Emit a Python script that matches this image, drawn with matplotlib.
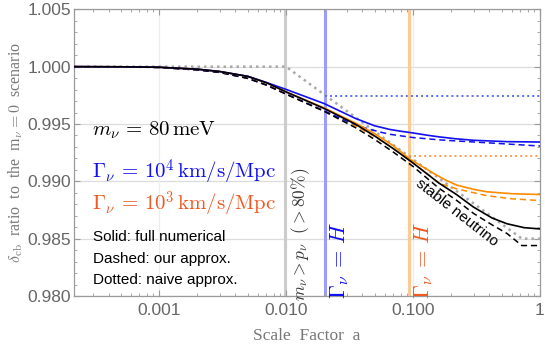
import matplotlib
matplotlib.use("Agg")
import matplotlib.pyplot as plt
from matplotlib.ticker import FixedLocator, NullFormatter

plt.rcParams['mathtext.fontset'] = 'cm'

# ---- data ----
a_black = [2.14e-4, 5e-4, 0.001, 0.002, 0.003, 0.005, 0.007, 0.01, 0.02, 0.035, 0.05, 0.07, 0.1, 0.16, 0.22, 0.3, 0.42, 0.55, 0.75, 1.0]
black_solid = [1.0, 0.99999, 0.99995, 0.99978, 0.99958, 0.99915, 0.99860, 0.99780, 0.99635, 0.99500, 0.99395, 0.99285, 0.99160, 0.98985, 0.98885, 0.98775, 0.98680, 0.98630, 0.98596, 0.98585]

a_bdash = [2.14e-4, 5e-4, 0.001, 0.002, 0.003, 0.005, 0.007, 0.01, 0.02, 0.035, 0.05, 0.07, 0.1, 0.16, 0.22, 0.3, 0.42, 0.55, 0.72, 1.0]
black_dashed = [1.0, 0.99999, 0.99993, 0.99972, 0.99950, 0.99898, 0.99840, 0.99760, 0.99610, 0.99470, 0.99365, 0.99255, 0.99130, 0.98940, 0.98835, 0.98720, 0.98620, 0.98545, 0.98440, 0.98440]

a_blue = [2.14e-4, 5e-4, 0.001, 0.002, 0.003, 0.005, 0.007, 0.01, 0.02, 0.035, 0.05, 0.066, 0.08, 0.1, 0.13, 0.16, 0.214, 0.3, 0.55, 1.0]
blue_solid = [1.0, 0.99999, 0.99995, 0.99978, 0.99958, 0.99916, 0.99862, 0.99802, 0.99678, 0.99550, 0.99484, 0.99452, 0.99437, 0.99422, 0.99402, 0.99388, 0.99372, 0.99358, 0.99346, 0.99343]

a_blue_d = [2.14e-4, 5e-4, 0.001, 0.002, 0.003, 0.005, 0.007, 0.01, 0.02, 0.03, 0.042, 0.055, 0.066, 0.1, 0.16, 0.2, 0.4, 1.0]
blue_dashed = [1.0, 0.99999, 0.99993, 0.99972, 0.99950, 0.99898, 0.99840, 0.99762, 0.99615, 0.99525, 0.99465, 0.99430, 0.99410, 0.99382, 0.99362, 0.99355, 0.99335, 0.99308]

a_orange = [2.14e-4, 5e-4, 0.001, 0.002, 0.003, 0.005, 0.007, 0.01, 0.02, 0.035, 0.05, 0.07, 0.095, 0.12, 0.145, 0.18, 0.22, 0.3, 0.38, 0.6, 1.0]
orange_solid = [1.0, 0.99999, 0.99995, 0.99978, 0.99958, 0.99915, 0.99861, 0.99781, 0.99640, 0.99510, 0.99415, 0.99310, 0.99192, 0.99125, 0.99070, 0.99012, 0.98968, 0.98930, 0.98909, 0.98892, 0.98885]

a_orange_d = [2.14e-4, 5e-4, 0.001, 0.002, 0.003, 0.005, 0.007, 0.01, 0.02, 0.035, 0.05, 0.07, 0.1, 0.13, 0.16, 0.22, 0.38, 0.6, 1.0]
orange_dashed = [1.0, 0.99999, 0.99993, 0.99972, 0.99950, 0.99898, 0.99840, 0.99762, 0.99615, 0.99485, 0.99390, 0.99285, 0.99160, 0.99065, 0.98983, 0.98935, 0.98875, 0.98848, 0.98832]

a_gray_dot = [2.14e-4, 0.01, 0.72, 1.0]
gray_dotted = [1.0, 1.0, 0.98500, 0.98500]

a_blue_dot = [0.0203, 1.0]
blue_dotted = [0.99745, 0.99745]

a_orange_dot = [0.093, 1.0]
orange_dotted = [0.99218, 0.99218]

vline_positions = [0.0098, 0.0203, 0.093]

yticks = [0.980, 0.985, 0.990, 0.995, 1.000, 1.005]
ytick_labels = ['0.980', '0.985', '0.990', '0.995', '1.000', '1.005']
xticks = [0.001, 0.01, 0.1, 1.0]
xtick_labels = ['0.001', '0.010', '0.100', '1']

# ---- colours ----
BLUE = '#1010f0'
ORANGE = '#ff8c00'
ORANGE_TXT = '#f05a22'
GRAY_TXT = '#777777'

fig = plt.figure(figsize=(5.45, 3.46), dpi=100)
ax = fig.add_axes([0.1358, 0.1445, 0.8550, 0.8285])
ax.set_xscale('log')
ax.set_xlim(2.14e-4, 1.0)
ax.set_ylim(0.980, 1.005)

# grid
for yv in yticks:
    ax.axhline(yv, color='#dcdcdc', lw=0.9, zorder=0)
for xv in xticks[:-1]:
    ax.axvline(xv, color='#eeeeee', lw=0.9, zorder=0)

# vertical markers
ax.axvline(vline_positions[0], color='#cccccc', lw=2.2, zorder=1)
ax.axvline(vline_positions[1], color='#9c9cff', lw=2.2, zorder=1)
ax.axvline(vline_positions[2], color='#ffc992', lw=2.2, zorder=1)

# curves
ax.plot(a_gray_dot, gray_dotted, color='#a8a8a8', lw=1.8, ls=(0, (1, 1.6)), zorder=2)
ax.plot(a_blue_dot, blue_dotted, color='#5a6bff', lw=1.4, ls=(0, (1, 1.6)), zorder=2)
ax.plot(a_orange_dot, orange_dotted, color='#ff9a50', lw=1.4, ls=(0, (1, 1.6)), zorder=2)

ax.plot(a_orange_d, orange_dashed, color=ORANGE, lw=1.1, ls=(0, (4, 2.5)), zorder=3)
ax.plot(a_blue_d, blue_dashed, color=BLUE, lw=1.1, ls=(0, (4, 2.5)), zorder=3)
ax.plot(a_bdash, black_dashed, color='black', lw=1.1, ls=(0, (4, 2.5)), zorder=3)
ax.plot(a_orange, orange_solid, color=ORANGE, lw=1.2, zorder=4)
ax.plot(a_blue, blue_solid, color=BLUE, lw=1.2, zorder=4)
ax.plot(a_black, black_solid, color='black', lw=1.2, zorder=5)

# ticks
ax.xaxis.set_major_locator(FixedLocator(xticks))
ax.set_xticklabels(xtick_labels)
minors = [m * 10.0 ** e for e in (-4, -3, -2, -1) for m in range(2, 10)]
minors = [v for v in minors if 2.14e-4 <= v <= 1.0]
ax.xaxis.set_minor_locator(FixedLocator(minors))
ax.xaxis.set_minor_formatter(NullFormatter())
ax.yaxis.set_major_locator(FixedLocator(yticks))
ax.set_yticklabels(ytick_labels)
ax.yaxis.set_minor_locator(FixedLocator([0.980 + 0.001 * i for i in range(26)]))
ax.tick_params(which='both', direction='in', top=True, right=True, color='#999999')
ax.tick_params(which='major', length=4, width=0.8, labelsize=12.5, labelcolor='#666666')
ax.tick_params(axis='x', which='major', pad=5)
ax.tick_params(axis='y', which='major', pad=2)
ax.tick_params(which='minor', length=2, width=0.6)
for lab in ax.get_xticklabels() + ax.get_yticklabels():
    lab.set_fontfamily('Liberation Sans')
for s in ax.spines.values():
    s.set_color('#9a9a9a')
    s.set_linewidth(0.9)

ax.set_xlabel('Scale  Factor  a', family='Liberation Serif', fontsize=12.5, color=GRAY_TXT, labelpad=7)
ax.set_ylabel(r'$\delta_{\rm cb}$  ratio  to  the  m$_\nu = 0$  scenario', family='Liberation Serif',
              fontsize=11.5, color=GRAY_TXT, labelpad=2)

# annotations
ax.text(0.038, 0.579, r'$m_\nu\,=\,80\,\mathrm{meV}$', transform=ax.transAxes, fontsize=15, color='black', va='center')
ax.text(0.038, 0.432, r'$\Gamma_\nu\,=\,10^4\,\mathrm{km/s/Mpc}$', transform=ax.transAxes, fontsize=15, color=BLUE, va='center')
ax.text(0.038, 0.320, r'$\Gamma_\nu\,=\,10^3\,\mathrm{km/s/Mpc}$', transform=ax.transAxes, fontsize=15, color=ORANGE_TXT, va='center')
ax.text(0.040, 0.206, 'Solid: full numerical', transform=ax.transAxes, fontsize=11, family='Liberation Sans', va='center')
ax.text(0.040, 0.129, 'Dashed: our approx.', transform=ax.transAxes, fontsize=11, family='Liberation Sans', va='center')
ax.text(0.040, 0.056, 'Dotted: naive approx.', transform=ax.transAxes, fontsize=11, family='Liberation Sans', va='center')

ax.text(0.0131, 0.98535, r'$m_\nu > p_\nu\ \ (> 80\%)$', rotation=90, fontsize=12.5, color='#333333', ha='center', va='center')
ax.text(0.0262, 0.9831, r'$\Gamma_\nu\,=\,H$', rotation=90, fontsize=16, color=BLUE, ha='center', va='center')
ax.text(0.121, 0.9831, r'$\Gamma_\nu\,=\,H$', rotation=90, fontsize=16, color=ORANGE_TXT, ha='center', va='center')
ax.text(0.22, 0.9873, 'stable neutrino', rotation=-38, fontsize=11, family='Liberation Sans', color='black',
        ha='center', va='center', rotation_mode='anchor')

fig.savefig('out.png', dpi=100)
